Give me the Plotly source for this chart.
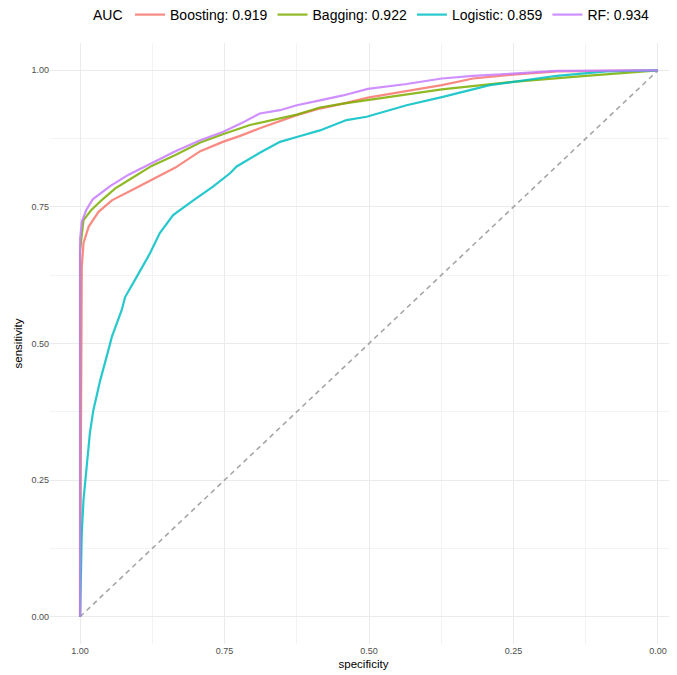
import plotly.graph_objects as go

# ---- data (specificity, sensitivity) ----
boost_spec = [1.0, 0.999, 0.998, 0.997, 0.994, 0.985, 0.968, 0.945, 0.910, 0.876, 0.835, 0.792, 0.753,
              0.723, 0.689, 0.625, 0.585, 0.545, 0.502, 0.446, 0.374, 0.320, 0.251, 0.175, 0.0]
boost_sens = [0.0, 0.20, 0.45, 0.64, 0.684, 0.714, 0.741, 0.762, 0.781, 0.800, 0.822, 0.852, 0.869,
              0.880, 0.894, 0.918, 0.930, 0.939, 0.950, 0.960, 0.973, 0.985, 0.992, 0.998, 1.0]

bag_spec = [1.0, 1.0, 0.994, 0.980, 0.962, 0.939, 0.910, 0.876, 0.835, 0.792, 0.753, 0.706, 0.625,
            0.585, 0.545, 0.502, 0.446, 0.374, 0.251, 0.125, 0.0]
bag_sens = [0.0, 0.67, 0.726, 0.745, 0.763, 0.784, 0.803, 0.825, 0.845, 0.868, 0.883, 0.900, 0.919,
            0.932, 0.939, 0.945, 0.954, 0.965, 0.979, 0.990, 1.0]

log_spec = [1.0, 0.9988, 0.997, 0.994, 0.988, 0.983, 0.977, 0.965, 0.954, 0.945, 0.928, 0.922, 0.902,
            0.879, 0.862, 0.839, 0.804, 0.770, 0.740, 0.729, 0.689, 0.654, 0.625, 0.585, 0.539, 0.504,
            0.435, 0.374, 0.291, 0.250, 0.175, 0.089, 0.0]
log_sens = [0.0, 0.092, 0.153, 0.214, 0.287, 0.336, 0.378, 0.433, 0.476, 0.512, 0.561, 0.585, 0.622,
            0.665, 0.702, 0.735, 0.762, 0.787, 0.812, 0.824, 0.849, 0.869, 0.878, 0.890, 0.909, 0.915,
            0.936, 0.951, 0.973, 0.979, 0.990, 0.998, 1.0]

rf_spec = [1.0, 1.0, 0.997, 0.989, 0.978, 0.948, 0.916, 0.876, 0.835, 0.792, 0.753, 0.723, 0.689,
           0.654, 0.625, 0.585, 0.545, 0.502, 0.435, 0.374, 0.320, 0.251, 0.175, 0.0]
rf_sens = [0.0, 0.69, 0.723, 0.745, 0.764, 0.788, 0.809, 0.830, 0.852, 0.872, 0.887, 0.902, 0.921,
           0.927, 0.936, 0.945, 0.954, 0.966, 0.975, 0.985, 0.990, 0.994, 0.999, 1.0]

model_names = ["Boosting: 0.919", "Bagging: 0.922", "Logistic: 0.859", "RF: 0.934"]
model_colors = ["#F8766D", "#7CAE00", "#00BFC4", "#C77CFF"]
legend_title = "AUC"
diag_spec = [1.0, 0.0]
diag_sens = [0.0, 1.0]

x_ticks = [1.0, 0.75, 0.5, 0.25, 0.0]
x_ticklabels = ["1.00", "0.75", "0.50", "0.25", "0.00"]
y_ticks = [0.0, 0.25, 0.5, 0.75, 1.0]
y_ticklabels = ["0.00", "0.25", "0.50", "0.75", "1.00"]

FONT = "Liberation Sans, Arial, sans-serif"

fig = go.Figure()
fig.add_trace(go.Scatter(x=diag_spec, y=diag_sens, mode="lines", showlegend=False,
                         line=dict(color="#A6A6A6", width=1.6, dash="5px,4px")))

series = [(boost_spec, boost_sens), (bag_spec, bag_sens), (log_spec, log_sens), (rf_spec, rf_sens)]
for (xs, ys), name, col in zip(series, model_names, model_colors):
    fig.add_trace(go.Scatter(x=xs, y=ys, mode="lines", name=name, opacity=0.85,
                             line=dict(color=col, width=2.2)))

# page body has an 8px margin; size the figure so the panel lands where the reference has it
W, H = 669, 667
LEG_Y = 1.0466
fig.update_layout(
    width=W, height=H,
    margin=dict(l=42, r=0, t=35, b=31, autoexpand=False),
    paper_bgcolor="white", plot_bgcolor="white",
    font=dict(family=FONT, color="#000000"),
    legend=dict(orientation="h", x=0.1276, xanchor="left", y=LEG_Y, yanchor="middle",
                font=dict(size=14), itemwidth=30, tracegroupgap=0),
    annotations=[dict(text=legend_title, xref="paper", yref="paper", x=0.1196, y=LEG_Y,
                      xanchor="right", yanchor="middle", showarrow=False,
                      font=dict(size=14, color="#000000", family=FONT))],
)
fig.update_xaxes(
    range=[1.052, -0.0329], tickvals=x_ticks, ticktext=x_ticklabels,
    showgrid=True, gridcolor="#EBEBEB", gridwidth=1, zeroline=False, showline=False,
    ticks="", tickfont=dict(size=9, color="#4D4D4D", family=FONT),
    minor=dict(tickvals=[0.875, 0.625, 0.375, 0.125], showgrid=True, gridcolor="#F3F3F3", gridwidth=1),
    title=dict(text="specificity", font=dict(size=11.5, color="#000000"), standoff=4),
)
fig.update_yaxes(
    range=[-0.05, 1.05], tickvals=y_ticks, ticktext=y_ticklabels,
    showgrid=True, gridcolor="#EBEBEB", gridwidth=1, zeroline=False, showline=False,
    ticks="", tickfont=dict(size=9, color="#4D4D4D", family=FONT),
    minor=dict(tickvals=[0.125, 0.375, 0.625, 0.875], showgrid=True, gridcolor="#F3F3F3", gridwidth=1),
    title=dict(text="sensitivity", font=dict(size=11.5, color="#000000"), standoff=6),
)

fig.write_html("out.html")
